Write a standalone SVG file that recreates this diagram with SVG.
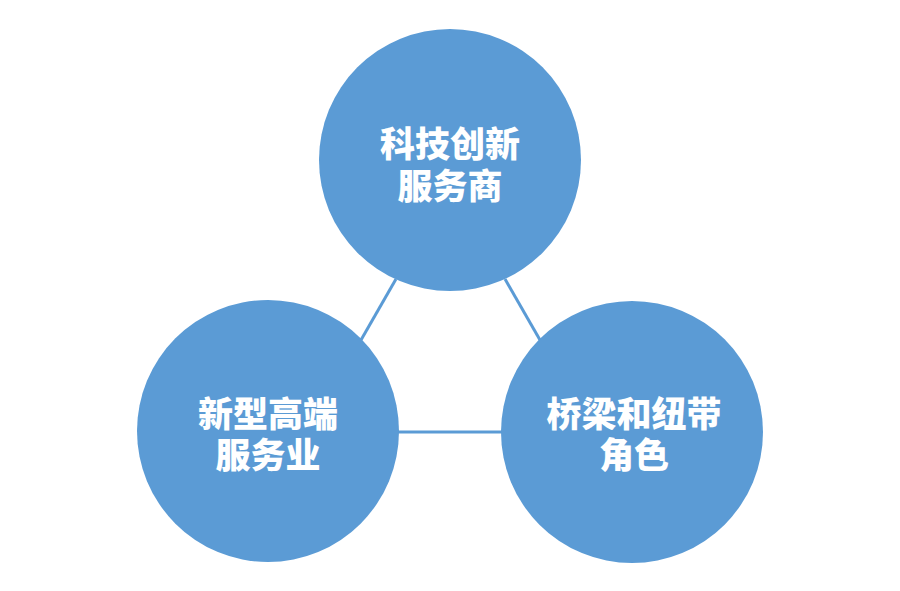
<svg xmlns="http://www.w3.org/2000/svg" width="900" height="591" viewBox="0 0 900 591">
<style>
.n{fill:#5b9bd5}
.t{fill:#ffffff;font-family:"Liberation Serif","Noto Sans CJK SC","Noto Sans CJK JP",serif;font-weight:900;font-size:35px;text-anchor:middle}
.c{stroke:#5b9bd5;stroke-width:3;fill:none}
</style>
<rect width="900" height="591" fill="#ffffff"/>
<g id="connectors">
<line class="c" x1="396" y1="279" x2="361" y2="340"/>
<line class="c" x1="505" y1="279" x2="540" y2="340"/>
<line class="c" x1="398" y1="432" x2="502" y2="432"/>
</g>
<g id="node-top">
<circle class="n" cx="450" cy="160" r="131"/>
<text class="t" x="450" y="157">科技创新</text>
<text class="t" x="450" y="199">服务商</text>
</g>
<g id="node-left">
<circle class="n" cx="268" cy="431" r="131"/>
<text class="t" x="268" y="427">新型高端</text>
<text class="t" x="268" y="468">服务业</text>
</g>
<g id="node-right">
<circle class="n" cx="632" cy="432" r="131"/>
<text class="t" x="634" y="427">桥梁和纽带</text>
<text class="t" x="634" y="468">角色</text>
</g>
</svg>
